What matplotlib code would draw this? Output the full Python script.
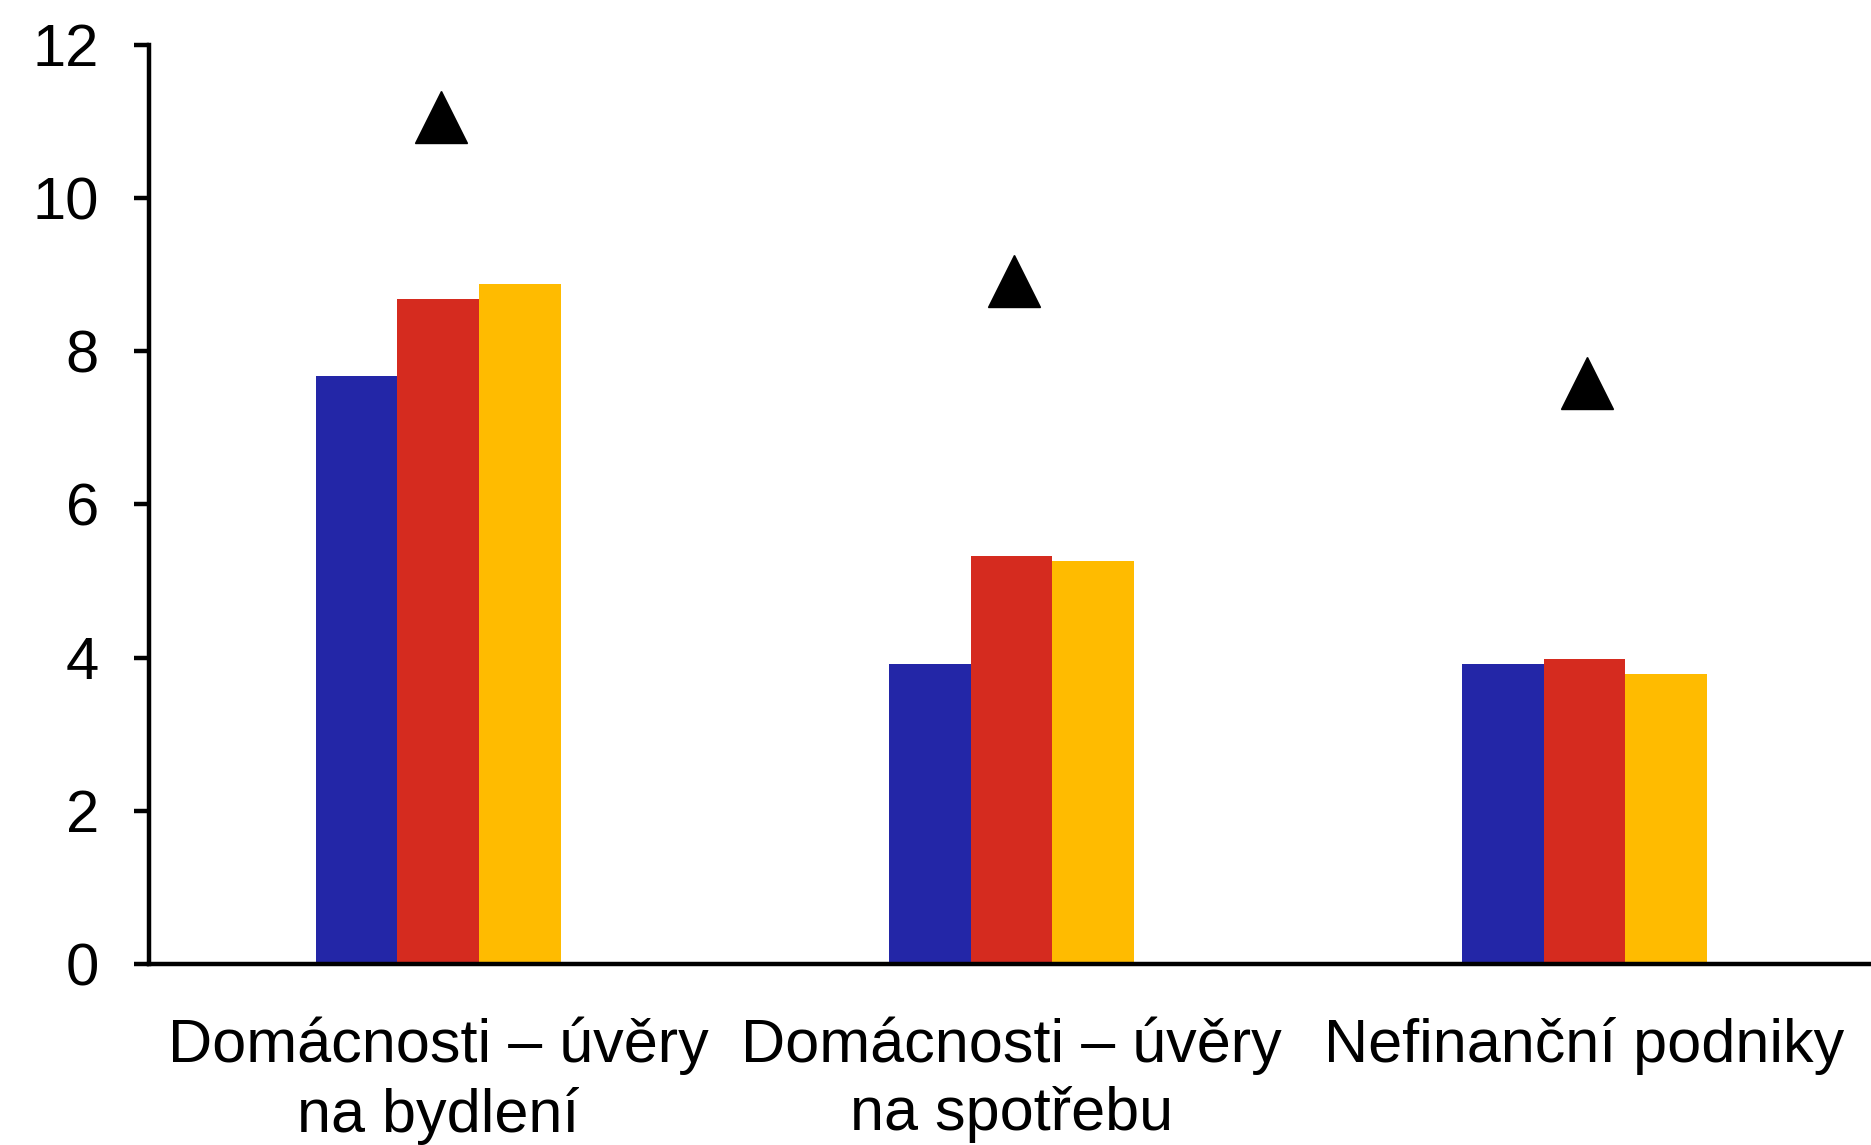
import numpy as np
import matplotlib.pyplot as plt

plt.rcParams['font.family'] = ['Liberation Sans', 'DejaVu Sans']

# data
kategorie = ["Domácnosti – úvěry\nna bydlení",
             "Domácnosti – úvěry\nna spotřebu",
             "Nefinanční podniky"]
rada_modra = [7.68, 3.92, 3.92]
rada_cervena = [8.68, 5.33, 3.98]
rada_zluta = [8.88, 5.26, 3.79]
trojuhelniky = [11.06, 8.92, 7.58]

barvy = ['#2326A7', '#D52B1F', '#FFBB00']

fig = plt.figure(figsize=(18.71, 11.45), dpi=100)
ax = fig.add_axes([0.0796, 0.158, 0.9204, 0.8029])

x = np.arange(len(kategorie))
w = 0.1425
ax.bar(x - w, rada_modra, width=w, color=barvy[0], linewidth=0)
ax.bar(x, rada_cervena, width=w, color=barvy[1], linewidth=0)
ax.bar(x + w, rada_zluta, width=w, color=barvy[2], linewidth=0)
ax.plot(x + 0.005, trojuhelniky, linestyle='none', marker='^', markersize=37,
        color='black', clip_on=False)

ax.set_xlim(-0.505, 2.5)
ax.set_ylim(0, 12)
ax.set_yticks(np.arange(0, 13, 2))
ax.set_xticks(x)
ax.set_xticklabels(kategorie, fontsize=44, linespacing=1.25)

for s in ['top', 'right']:
    ax.spines[s].set_visible(False)
for s in ['left', 'bottom']:
    ax.spines[s].set_linewidth(3.2)

ax.tick_params(axis='y', direction='out', length=11, width=3.2,
               labelsize=43, pad=25)
ax.tick_params(axis='x', length=0, pad=38)

fig.savefig('out.png', dpi=100)
